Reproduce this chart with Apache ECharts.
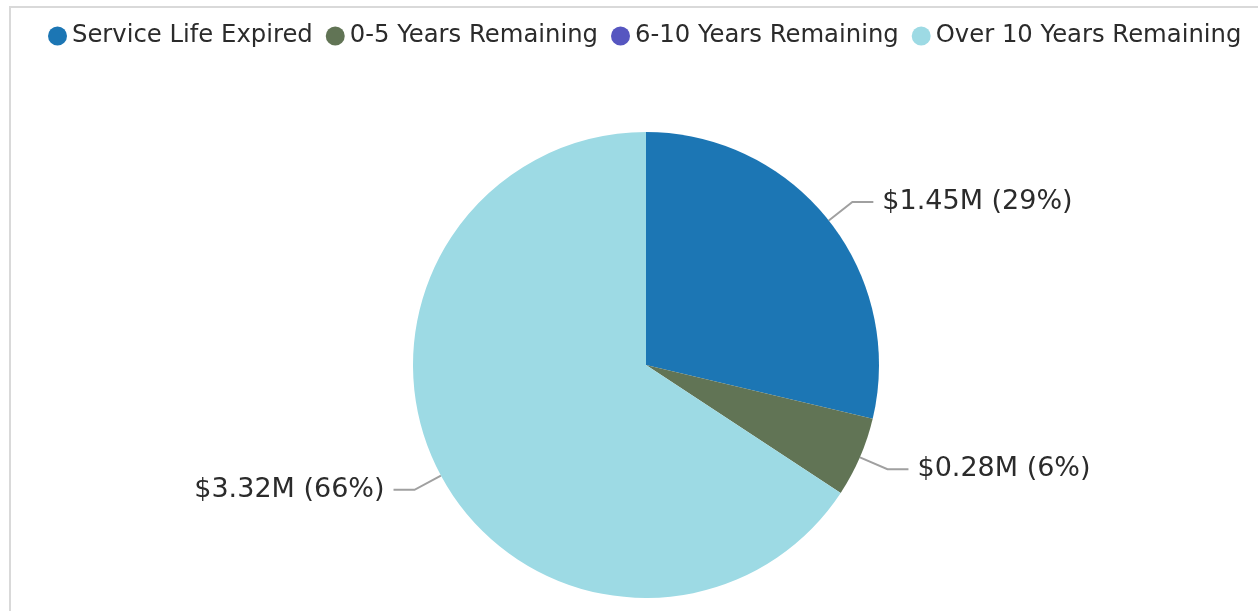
<!DOCTYPE html>
<html>
<head>
<meta charset="utf-8">
<script src="https://cdn.jsdelivr.net/npm/echarts@6/dist/echarts.min.js"></script>
<style>
	html, body { margin: 0; padding: 0; background: #fff; }
	#frame {
		position: absolute; left: 9px; top: 6px; right: -4px; bottom: -4px;
		border-top: 2px solid #d9d9d9; border-left: 2px solid #d9d9d9;
	}
	#main { position: absolute; left: 0; top: 0; width: 1258px; height: 611px; }
</style>
</head>
<body>
<div id="frame"></div>
<div id="main"></div>
<script>
const categories = ["Service Life Expired", "0-5 Years Remaining", "6-10 Years Remaining", "Over 10 Years Remaining"];
const values = [1.45, 0.28, 0, 3.32]; // $M
const colors = ["#1c76b4", "#617455", "#5656c0", "#9ddae4"];

const chart = echarts.init(document.getElementById("main"), null, { renderer: "canvas" });

const total = values.reduce((a, b) => a + b, 0);

const option = {
	color: colors,
	legend: {
		top: 19,
		left: 43,
		icon: "circle",
		itemWidth: 19,
		itemHeight: 19,
		itemGap: 13,
		textStyle: {
			fontFamily: "DejaVu Sans",
			fontSize: 24.3,
			color: "#2b2b2b",
		},
		data: categories,
	},
	series: [
		{
			name: "Value",
			type: "pie",
			radius: 233,
			center: [646, 365],
			startAngle: 90,
			clockwise: true,
			animation: false,
			label: {
				show: true,
				position: "outside",
				fontFamily: "DejaVu Sans",
				fontSize: 27,
				color: "#2b2b2b",
				lineHeight: 27,
				padding: [10, 0, 0, 0],
				distanceToLabelLine: 9,
				formatter: (p) => `$${p.value.toFixed(2)}M (${Math.round((p.value / total) * 100)}%)`,
			},
			labelLine: {
				show: true,
				length: 30,
				length2: 21,
				lineStyle: { color: "#a0a0a0", width: 2 },
			},
			emphasis: { disabled: true },
			data: categories.map((name, i) => {
				const d = { name, value: values[i] };
				if (!values[i]) {
					d.label = { show: false };
					d.labelLine = { show: false };
				}
				return d;
			}),
		},
	],
};

chart.setOption(option, true);
</script>
</body>
</html>
